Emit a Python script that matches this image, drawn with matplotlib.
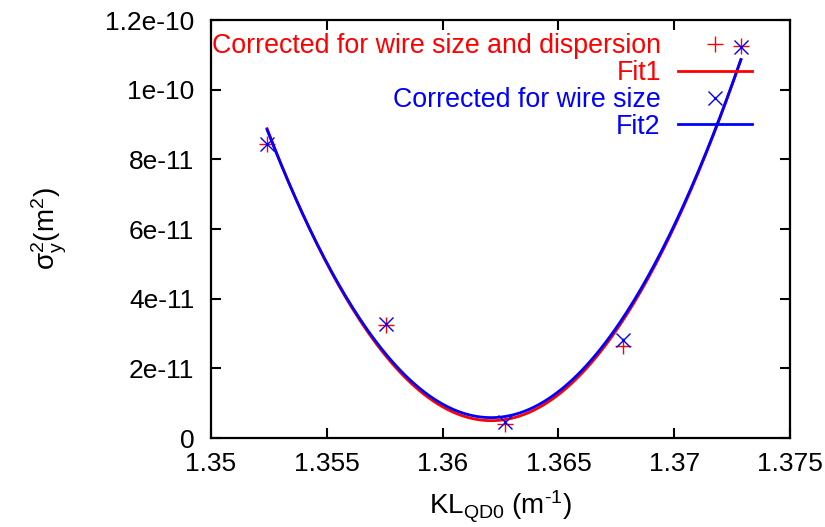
import numpy as np
import matplotlib
matplotlib.use('Agg')
import matplotlib.pyplot as plt

plt.rcParams['font.family'] = ['Liberation Sans', 'DejaVu Sans']
plt.rcParams['mathtext.fontset'] = 'custom'
plt.rcParams['mathtext.rm'] = 'Liberation Sans'
plt.rcParams['mathtext.it'] = 'Liberation Sans'
plt.rcParams['mathtext.default'] = 'regular'

# Measured beam size vs quad strength
kl = [1.35242, 1.35756, 1.36269, 1.36779, 1.37288]
sig_disp = [8.45e-11, 3.25e-11, 0.40e-11, 2.64e-11, 11.25e-11]   # corrected for wire size and dispersion
sig_wire = [8.45e-11, 3.27e-11, 0.45e-11, 2.80e-11, 11.22e-11]   # corrected for wire size

xticks = [1.35, 1.355, 1.36, 1.365, 1.37, 1.375]
xtick_labels = ['1.35', '1.355', '1.36', '1.365', '1.37', '1.375']
yticks = [0, 2e-11, 4e-11, 6e-11, 8e-11, 1e-10, 1.2e-10]
ytick_labels = ['0', '2e-11', '4e-11', '6e-11', '8e-11', '1e-10', '1.2e-10']

# parabola fits (like gnuplot fit)
p1 = np.polyfit(kl, sig_disp, 2)
p2 = np.polyfit(kl, sig_wire, 2)
kfit = np.linspace(min(kl), max(kl), 200)

fs = 19
fig = plt.figure(figsize=(8.25, 5.27), dpi=100)
ax = fig.add_axes([211/825., 1-438/527., 579/825., 418/527.])

ax.plot(kl, sig_disp, '+', color='red', ms=12, mew=1.0, label='Corrected for wire size and dispersion')
ax.plot(kfit, np.polyval(p1, kfit), '-', color='red', lw=2, label='Fit1')
ax.plot(kl, sig_wire, 'x', color='blue', ms=10, mew=1.0, label='Corrected for wire size')
ax.plot(kfit, np.polyval(p2, kfit), '-', color='blue', lw=2, label='Fit2')

ax.set_xlim(1.35, 1.375)
ax.set_ylim(0, 1.2e-10)
ax.set_xticks(xticks)
ax.set_xticklabels(xtick_labels)
ax.set_yticks(yticks)
ax.set_yticklabels(ytick_labels)
ax.tick_params(direction='in', length=7, width=1.5, top=True, right=True, labelsize=fs)
ax.tick_params(axis='x', pad=10)
ax.tick_params(axis='y', pad=12)
for sp in ax.spines.values():
    sp.set_linewidth(1.6)

ax.set_xlabel('KL$_{QD0}$ (m$^{\\text{-}1}$)', fontsize=20, labelpad=9)
ax.set_ylabel('$\\sigma_y^2$(m$^2$)', fontsize=20, labelpad=26)

ax.legend(loc='upper right', bbox_to_anchor=(0.934, 0.968), markerfirst=False, frameon=False,
          fontsize=19.3, labelcolor='linecolor', handlelength=2.75, handletextpad=0.65,
          labelspacing=0.03, borderpad=0, borderaxespad=0)

plt.savefig('out.png', dpi=100)
